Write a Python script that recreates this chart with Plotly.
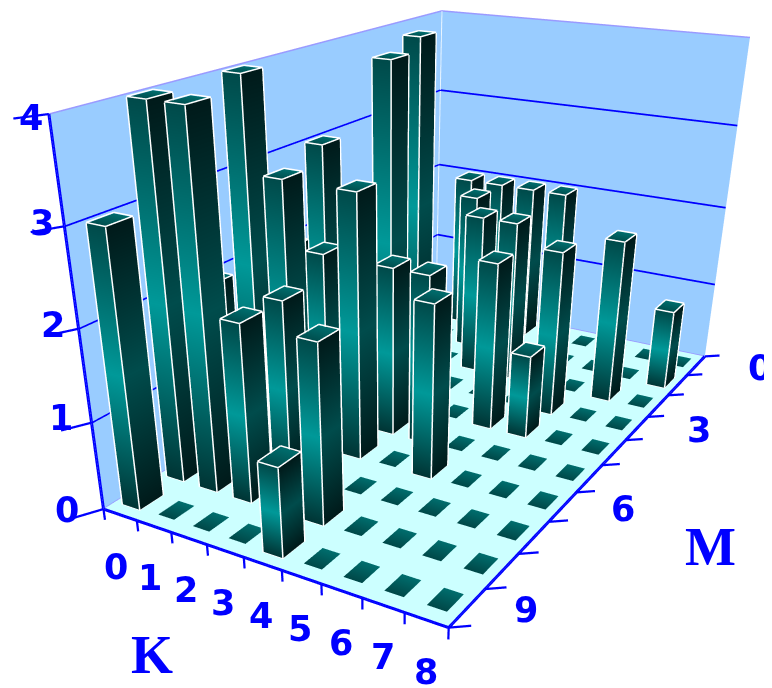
import plotly.graph_objects as go

K_LABELS = [0, 1, 2, 3, 4, 5, 6, 7, 8]
M_TICKS = [0, 3, 6, 9]
Z_TICKS = [0, 1, 2, 3, 4]
# rows are M = 0..9, columns K = 0..8
M0 = [0, 2, 2, 2, 2, 0, 0, 0, 0]
M1 = [0, 0, 2, 0, 0, 0, 0, 0, 1]
M2 = [0, 4, 0, 2, 2, 0, 0, 2, 0]
M3 = [0, 0, 0, 0, 0, 0, 2, 0, 0]
M4 = [3, 0, 4, 0, 0, 2, 1, 0, 0]
M5 = [2, 2, 0, 2, 2, 0, 0, 0, 0]
M6 = [4, 3, 0, 3, 0, 2, 0, 0, 0]
M7 = [2, 0, 2, 0, 0, 0, 0, 0, 0]
M8 = [4, 4, 2, 0, 2, 0, 0, 0, 0]
M9 = [3, 0, 0, 0, 1, 0, 0, 0, 0]
VALUES = [M0, M1, M2, M3, M4, M5, M6, M7, M8, M9]

HALF = 0.255
TILE = 0.23
EYE = (1.4906, -2.7795, 1.0608)
CEN = (0.0312, -0.339, -0.5947)
ASP = (1.0, 1.7471, 0.979)
UP = (0.0019, 0.0019, 1)
FIG_W, FIG_H = 764, 1000
OFF = 8

BLUE = "#0000ff"
LX, LY, LZ, LI, LJ, LK, LC = [], [], [], [], [], [], []


def add_pts(p):
    n = len(LX)
    for x, y, z, c in p:
        LX.append(x); LY.append(y); LZ.append(z); LC.append(c)
    return n


def strip(a, b, z0, z1, cols):
    for i in range(2):
        t0, t1 = i / 2, (i + 1) / 2
        za, zb = z0 + (z1 - z0) * t0, z0 + (z1 - z0) * t1
        n = add_pts([(a[0], a[1], za, cols[i]), (b[0], b[1], za, cols[i]),
                     (b[0], b[1], zb, cols[i + 1]), (a[0], a[1], zb, cols[i + 1])])
        LI.extend([n, n]); LJ.extend([n + 1, n + 2]); LK.extend([n + 2, n + 3])


def cap(k, m, z, half, back, front):
    n = add_pts([(k - half, m - half, z, back), (k + half, m - half, z, back),
                 (k + half, m + half, z, front), (k - half, m + half, z, front)])
    LI.extend([n, n]); LJ.extend([n + 1, n + 2]); LK.extend([n + 2, n + 3])


ex, ey, ez = [], [], []


def edge(a, b):
    ex.extend([a[0], b[0], None]); ey.extend([a[1], b[1], None]); ez.extend([a[2], b[2], None])


for m, row in enumerate(VALUES):
    for k, v in enumerate(row):
        if v == 0:
            cap(k, m, 0.012, TILE, "#006e6e", "#004848")
            continue
        strip((k - HALF, m + HALF), (k + HALF, m + HALF), 0, v, ["#003434", "#009999", "#004a4a"])
        strip((k + HALF, m + HALF), (k + HALF, m - HALF), 0, v, ["#001a1a", "#004c4c", "#001a1a"])
        cap(k, m, v, HALF, "#006e6e", "#004c4c")
        h = HALF + 0.008
        L, R, Bk, Fr = k - h, k + h, m - h, m + h
        edge((L, Fr, 0), (L, Fr, v)); edge((R, Fr, 0), (R, Fr, v)); edge((R, Bk, 0), (R, Bk, v))
        edge((L, Fr, 0), (R, Fr, 0)); edge((R, Fr, 0), (R, Bk, 0))
        z = v + 0.008
        edge((L, Fr, z), (R, Fr, z)); edge((R, Fr, z), (R, Bk, z))
        edge((R, Bk, z), (L, Bk, z)); edge((L, Bk, z), (L, Fr, z))

K0, K1, M_lo, M_hi = -0.5, 8.5, -0.5, 9.5
ZT = 4


def plane(xs, ys, zs, color):
    return go.Mesh3d(x=xs, y=ys, z=zs, i=[0, 0], j=[1, 2], k=[2, 3], color=color, hoverinfo="skip",
                     lighting=dict(ambient=1, diffuse=0, specular=0, roughness=1, fresnel=0), flatshading=True)


def line(xs, ys, zs, color, width, dash=None):
    return go.Scatter3d(x=xs, y=ys, z=zs, mode="lines", hoverinfo="skip", showlegend=False,
                        line=dict(color=color, width=width, dash=dash or "solid"))


fig = go.Figure()
fig.add_trace(plane([K0, K1, K1, K0], [M_lo, M_lo, M_hi, M_hi], [0, 0, 0, 0], "#ccffff"))
fig.add_trace(plane([K0, K0, K0, K0], [M_lo, M_hi, M_hi, M_lo], [0, 0, ZT, ZT], "#99ccff"))
fig.add_trace(plane([K0, K1, K1, K0], [M_lo, M_lo, M_lo, M_lo], [0, 0, ZT, ZT], "#99ccff"))

gx, gy, gz = [], [], []
for z in Z_TICKS[1:-1]:
    gx += [K0 + .01, K0 + .01, None, K0, K1, None]
    gy += [M_hi, M_lo, None, M_lo + .01, M_lo + .01, None]
    gz += [z, z, None, z, z, None]
fig.add_trace(line(gx, gy, gz, BLUE, 3.5))
fig.add_trace(line([K0, K0, K1, K1, None, K0, K1, None, K0, K0],
                   [M_hi, M_lo, M_lo, M_lo, None, M_lo, M_lo, None, M_hi, M_lo],
                   [ZT, ZT, ZT, ZT, None, 0.01, 0.01, None, 0.01, 0.01], "#9a9aff", 3))
fig.add_trace(line([K0 + .01, K0 + .01], [M_lo + .01, M_lo + .01], [0, ZT], "#e8f4ff", 2.5))

fig.add_trace(go.Mesh3d(x=LX, y=LY, z=LZ, i=LI, j=LJ, k=LK, vertexcolor=LC, hoverinfo="skip",
                        lighting=dict(ambient=1, diffuse=0, specular=0, roughness=1, fresnel=0), flatshading=True))
fig.add_trace(line(ex, ey, ez, "#ffffff", 3))

ax, ay, az = [], [], []
ax += [K0, K1, K1, None, K0, K0, None]
ay += [M_hi, M_hi, M_lo, None, M_hi, M_hi, None]
az += [0, 0, 0, None, 0, ZT, None]
fig.add_trace(line(ax, ay, az, BLUE, 6))
tx, ty, tz = [], [], []
for i in range(10):
    tx += [K0 + i, K0 + i, None]; ty += [M_hi, M_hi, None]; tz += [0, -0.13, None]
for i in range(11):
    tx += [K1, K1 + .35, None]; ty += [M_lo + i, M_lo + i - .18, None]; tz += [0, 0, None]
for z in Z_TICKS:
    tx += [K0, K0 - .3, None]; ty += [M_hi, M_hi + .4, None]; tz += [z, z, None]
fig.add_trace(line(tx, ty, tz, BLUE, 4.5))

FONT = dict(family="DejaVu Sans", size=35, color=BLUE)
Z_XSHIFT = [-36, -31, -26, -22, -18]
Z_YSHIFT = [-1, 5, 4, 3, -4]


def bold(v):
    return f"<b>{v}</b>"


notes = []
for k in K_LABELS:
    notes.append(dict(x=k, y=M_hi, z=0, text=bold(k), showarrow=False, xshift=-4 + k / 2, yshift=-52, font=FONT))
for m in M_TICKS:
    notes.append(dict(x=K1, y=m, z=0, text=bold(m), showarrow=False, xshift=64 - m * 0.6, yshift=-2, font=FONT))
for z in Z_TICKS:
    notes.append(dict(x=K0, y=M_hi, z=z, text=bold(z), showarrow=False, xshift=Z_XSHIFT[z], yshift=Z_YSHIFT[z], font=FONT))

TITLE_FONT = dict(family="Liberation Serif", size=54, color=BLUE)


def title(text, px, py):
    return dict(x=(px - OFF) / FIG_W, y=1 - (py - OFF) / FIG_H, xref="paper", yref="paper", text=bold(text),
                showarrow=False, xanchor="center", yanchor="middle", font=TITLE_FONT)


fig.update_layout(
    width=FIG_W, height=FIG_H, margin=dict(l=0, r=0, t=0, b=0), paper_bgcolor="white", showlegend=False,
    scene=dict(
        domain=dict(x=[0, 1], y=[0, 1]),
        xaxis=dict(visible=False, range=[-1, 9]),
        yaxis=dict(visible=False, range=[10, -1]),
        zaxis=dict(visible=False, range=[-0.5, 4.5]),
        aspectmode="manual",
        aspectratio=dict(x=ASP[0] * 10 / 9, y=ASP[1] * 11 / 10, z=ASP[2] * 5 / 4),
        camera=dict(eye=dict(x=EYE[0], y=EYE[1], z=EYE[2]),
                    center=dict(x=CEN[0], y=CEN[1], z=CEN[2]),
                    up=dict(x=UP[0], y=UP[1], z=UP[2]),
                    projection=dict(type="perspective")),
        annotations=notes,
    ),
    annotations=[title("K", 152, 655), title("M", 710, 547)],
)
fig.write_html("out.html", config=dict(displayModeBar=False),
               post_script="document.documentElement.style.overflow='hidden';document.body.style.overflow='hidden';")
